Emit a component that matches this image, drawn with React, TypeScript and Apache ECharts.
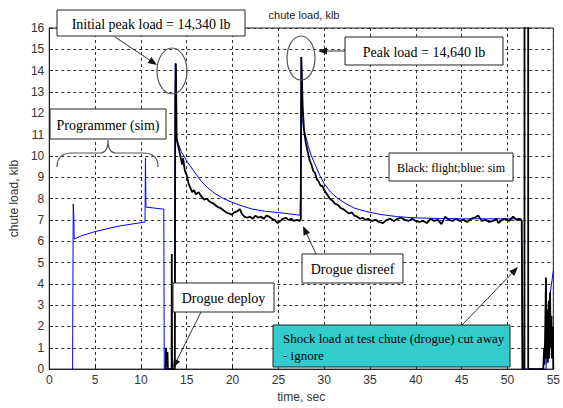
import React, { useEffect, useRef } from "react";
import * as echarts from "echarts";

// time (s) vs chute load (klb)
const flightPoints: [number, number][] = [
  [12.7, 0], [12.75, 1.0], [12.8, 0.1], [12.9, 0.8], [12.95, 0], [13.35, 0], [13.37, 5.4], [13.4, 0],
  [13.7, 0], [13.75, 12.6], [13.82, 14.34], [13.9, 10.8],
  [14.1, 10.4], [14.3, 10.0], [14.5, 9.6], [14.6, 9.9], [14.8, 9.3], [15.0, 9.1], [15.2, 8.7], [15.4, 8.5],
  [15.6, 8.3], [15.8, 8.4], [16.0, 8.2], [16.3, 8.3], [16.6, 8.1], [16.9, 7.95], [17.2, 8.0], [17.5, 7.85],
  [17.8, 7.8], [18.1, 7.7], [18.4, 7.6], [18.7, 7.55], [19.0, 7.45], [19.3, 7.35], [19.6, 7.3], [19.9, 7.25],
  [20.2, 7.35], [20.5, 7.4], [20.8, 7.5], [21.0, 7.3], [21.3, 7.15], [21.6, 7.1], [21.9, 7.15], [22.2, 7.05],
  [22.5, 7.2], [22.8, 7.1], [23.1, 7.15], [23.4, 7.05], [23.7, 7.2], [24.0, 7.15], [24.3, 7.05], [24.6, 7.0],
  [24.9, 6.85], [25.2, 6.95], [25.5, 7.05], [25.8, 7.1], [26.1, 7.0], [26.4, 7.05], [26.7, 6.95], [27.0, 7.0],
  [27.3, 6.95], [27.45, 7.05], [27.5, 14.64], [27.65, 12.3], [27.8, 11.2], [28.0, 10.6], [28.2, 10.2],
  [28.4, 9.8], [28.6, 9.6], [28.8, 9.3], [29.0, 9.2], [29.2, 8.9], [29.4, 8.8], [29.6, 8.6], [29.8, 8.6],
  [30.0, 8.4], [30.3, 8.2], [30.6, 8.0], [30.9, 7.9], [31.2, 7.75], [31.5, 7.7], [31.8, 7.55], [32.1, 7.5],
  [32.4, 7.4], [32.7, 7.3], [33.0, 7.35], [33.3, 7.2], [33.6, 7.15], [33.9, 7.05], [34.2, 7.1], [34.5, 7.0],
  [34.8, 7.05], [35.2, 6.95], [35.6, 7.0], [36.0, 6.9], [36.4, 6.85], [36.8, 7.0], [37.2, 7.05], [37.6, 6.95],
  [38.0, 7.05], [38.4, 7.1], [38.8, 7.0], [39.2, 6.95], [39.6, 7.05], [40.0, 6.95], [40.4, 6.9], [40.8, 6.95],
  [41.2, 6.85], [41.6, 7.05], [42.0, 6.95], [42.4, 7.0], [42.8, 6.8], [43.2, 7.15], [43.6, 7.0], [44.0, 6.95],
  [44.4, 7.05], [44.8, 6.95], [45.2, 7.0], [45.6, 6.9], [46.0, 7.05], [46.4, 7.1], [46.8, 7.2], [47.2, 6.95],
  [47.6, 7.0], [48.0, 6.9], [48.4, 6.95], [48.8, 7.05], [49.0, 6.85], [49.4, 7.0], [49.8, 7.05], [50.2, 6.95],
  [50.6, 7.15], [51.0, 7.0], [51.3, 7.05], [51.55, 6.95], [51.65, 0], [51.85, 0], [51.86, 30], [52.25, 30],
  [52.26, 0], [53.9, 0], [54.0, 1.0], [54.05, 0.2], [54.2, 4.3], [54.25, 0.5], [54.35, 2.8], [54.4, 0.3],
  [54.5, 3.2], [54.55, 0.5], [54.65, 3.6], [54.7, 1.0], [54.8, 2.5], [54.85, 0.5], [54.95, 2.0], [55, 0],
];

const simPoints: [number, number][] = [
  [2.55, 0], [2.56, 1.8], [2.6, 1.8], [2.62, 7.75], [2.68, 7.2], [2.72, 6.1], [3.5, 6.25],
  [5.0, 6.45], [7.5, 6.7], [10.45, 6.9], [10.5, 9.9], [10.55, 7.6], [12.5, 7.5], [12.55, 0], [13.68, 0],
  [13.7, 5.6], [13.75, 14.34], [13.9, 10.8], [14.4, 10.2], [15.1, 9.7], [16.0, 9.15], [16.6, 8.8],
  [17.3, 8.5], [18.0, 8.26], [19.0, 8.0], [20.1, 7.8], [21.2, 7.63], [22.2, 7.5], [23.6, 7.4], [25.1, 7.34],
  [26.2, 7.28], [27.35, 7.22], [27.4, 8.0], [27.5, 14.64], [27.7, 11.4], [28.0, 10.9], [28.3, 10.4],
  [28.6, 10.0], [29.0, 9.6], [29.5, 9.1], [30.0, 8.7], [30.7, 8.3], [31.5, 8.0], [32.4, 7.75], [33.3, 7.55],
  [34.5, 7.4], [36.2, 7.25], [38.0, 7.15], [39.7, 7.1], [42.0, 7.07], [45.0, 7.05], [51.55, 7.05],
  [51.6, 0], [54.2, 0], [54.5, 3.0], [54.8, 4.0], [55, 4.6],
];

const chartTitle = "chute load, klb";
const xName = "time, sec";
const yName = "chute load, klb";
const noteInitial = "Initial peak load = 14,340 lb";
const notePeak = "Peak load = 14,640 lb";
const noteProgrammer = "Programmer (sim)";
const noteLegend = "Black: flight;blue: sim";
const noteDisreef = "Drogue disreef";
const noteDeploy = "Drogue deploy";
const noteShock1 = "Shock load at test chute (drogue) cut away";
const noteShock2 = "- ignore";

const SERIF = '"Liberation Serif", "Times New Roman", serif';
const SANS = '"Liberation Sans", Arial, sans-serif';

function arrow(x1: number, y1: number, x2: number, y2: number): any[] {
  const a = Math.atan2(y2 - y1, x2 - x1);
  const L = 9, W = 3.5;
  const bx = x2 - L * Math.cos(a), by = y2 - L * Math.sin(a);
  return [
    { type: "line", shape: { x1, y1, x2: bx, y2: by }, style: { stroke: "#333", lineWidth: 1 }, z: 100 },
    {
      type: "polygon",
      shape: { points: [[x2, y2], [bx - W * Math.sin(a), by + W * Math.cos(a)], [bx + W * Math.sin(a), by - W * Math.cos(a)]] },
      style: { fill: "#111" }, z: 100,
    },
  ];
}

function box(x: number, y: number, w: number, h: number, text: string, size = 14, fill = "#fff"): any[] {
  return [
    { type: "rect", shape: { x, y, width: w, height: h }, style: { fill, stroke: "#222", lineWidth: 1 }, z: 101 },
    {
      type: "text", x: x + w / 2, y: y + h / 2 + 1, z: 102,
      style: { text, fill: "#000", font: `${size}px ${SERIF}`, textAlign: "center", textVerticalAlign: "middle" },
    },
  ];
}

export default function App() {
  const ref = useRef<HTMLDivElement>(null);
  useEffect(() => {
    if (!ref.current) return;
    echarts.graphic.registerShape(
      "brace",
      echarts.graphic.extendPath(
        "M57,167 Q57,153 72,153 L100,153 Q108,153 108,140 Q108,153 116,153 L143,153 Q158,153 158,167",
        {}
      )
    );
    const chart = echarts.init(ref.current, null, { renderer: "svg" });
    const graphics: any[] = [
      ...box(57, 10, 188, 26, noteInitial),
      ...arrow(115, 37, 157, 65),
      { type: "ellipse", shape: { cx: 172, cy: 71, rx: 15, ry: 23 }, style: { fill: "none", stroke: "#555", lineWidth: 1.2 }, z: 100 },
      ...box(345, 37, 158, 28, notePeak),
      ...arrow(345, 51, 318, 51),
      { type: "ellipse", shape: { cx: 301, cy: 58, rx: 14, ry: 22 }, style: { fill: "none", stroke: "#555", lineWidth: 1.2 }, z: 100 },
      ...box(50, 109, 116, 30, noteProgrammer),
      { type: "brace", style: { fill: "none", stroke: "#555", lineWidth: 1.2 }, z: 100 },
      ...box(389, 153, 124, 28, noteLegend, 12),
      ...box(302, 254, 101, 29, noteDisreef),
      ...arrow(316, 254, 303, 226),
      ...box(173, 283, 101, 29, noteDeploy),
      ...arrow(201, 312, 173, 368),
      { type: "rect", shape: { x: 273, y: 325, width: 237, height: 42 }, style: { fill: "#33CCCC", stroke: "#222", lineWidth: 1 }, z: 101 },
      { type: "text", x: 283, y: 338, z: 102, style: { text: noteShock1, fill: "#000", font: `13px ${SERIF}`, textVerticalAlign: "middle" } },
      { type: "text", x: 283, y: 355, z: 102, style: { text: noteShock2, fill: "#000", font: `13px ${SERIF}`, textVerticalAlign: "middle" } },
      ...arrow(462, 325, 518, 267),
    ];
    chart.setOption({
      animation: false,
      backgroundColor: "#fff",
      title: {
        text: chartTitle, left: 299, top: 4, textAlign: "center",
        textStyle: { fontSize: 11, fontWeight: "normal", color: "#222", fontFamily: SANS },
      },
      grid: { left: 42, right: 7, top: 28, bottom: 31, show: true, borderColor: "#222", borderWidth: 1, backgroundColor: "transparent" },
      xAxis: {
        type: "value", min: 0, max: 55, interval: 5,
        name: xName, nameLocation: "middle", nameGap: 20,
        nameTextStyle: { fontSize: 12, color: "#333", fontFamily: SANS },
        axisLine: { lineStyle: { color: "#222" } },
        axisTick: { inside: true, length: 4, lineStyle: { color: "#222" } },
        axisLabel: { fontSize: 12, color: "#333", fontFamily: SANS, margin: 5 },
        splitLine: { show: true, lineStyle: { color: "#333", type: [3, 3], width: 1 } },
      },
      yAxis: {
        type: "value", min: 0, max: 16, interval: 1,
        name: yName, nameLocation: "middle", nameGap: 22,
        nameTextStyle: { fontSize: 12, color: "#333", fontFamily: SANS },
        axisLine: { show: true, lineStyle: { color: "#222" } },
        axisTick: { show: true, inside: true, length: 4, lineStyle: { color: "#222" } },
        axisLabel: { fontSize: 12, color: "#333", fontFamily: SANS, margin: 5 },
        splitLine: { show: true, lineStyle: { color: "#333", type: [3, 3], width: 1 } },
      },
      series: [
        {
          name: "sim", type: "line", data: simPoints, showSymbol: false, symbol: "none",
          lineStyle: { color: "#0000ff", width: 1 }, clip: true, z: 2,
        },
        {
          name: "flight", type: "line", data: flightPoints, showSymbol: false, symbol: "none",
          lineStyle: { color: "#000", width: 1.8 }, clip: true, z: 3,
        },
      ],
      graphic: graphics,
    });
    return () => chart.dispose();
  }, []);
  return <div ref={ref} style={{ position: "fixed", left: 0, top: 0, width: 563, height: 408, background: "#fff" }} />;
}
